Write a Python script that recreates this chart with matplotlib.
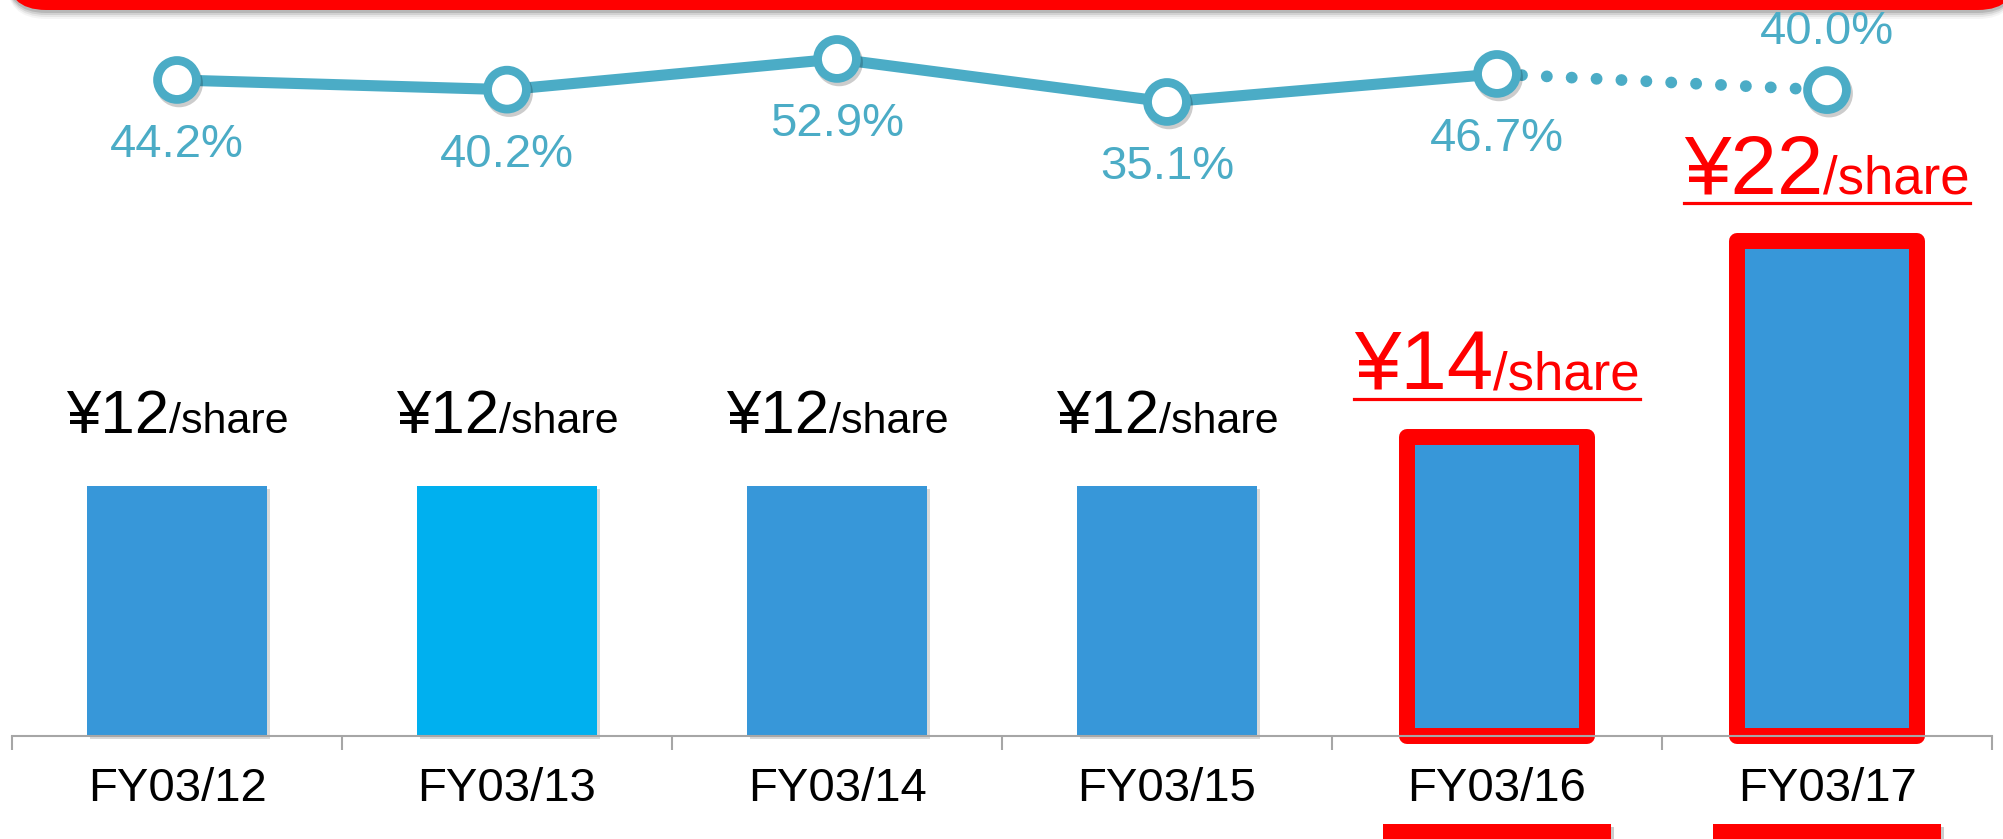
import numpy as np
import matplotlib
matplotlib.use("Agg")
import matplotlib.pyplot as plt
import matplotlib.patheffects as pe
from matplotlib.patches import FancyBboxPatch, Rectangle
from matplotlib.offsetbox import TextArea, HPacker, AnnotationBbox
from matplotlib.lines import Line2D
from matplotlib.transforms import blended_transform_factory, IdentityTransform

# data
years = ["FY03/12", "FY03/13", "FY03/14", "FY03/15", "FY03/16", "FY03/17"]
dividend = [12, 12, 12, 12, 14, 22]            # yen per share
payout = [44.2, 40.2, 52.9, 35.1, 46.7, 40.0]   # payout ratio, %
highlight = ["FY03/16", "FY03/17"]
forecast_from = 4   # segment FY03/16 -> FY03/17 is dotted

# style
W, H, DPI = 2003, 839, 100
BLUE = "#3797d9"
CYAN = "#00b0ef"
TEAL = "#4bacc6"
RED = "#ff0000"
GREY = "#a6a6a6"
plt.rcParams["font.family"] = ["Liberation Sans", "DejaVu Sans"]

fig = plt.figure(figsize=(W / DPI, H / DPI), dpi=DPI, facecolor="white")
fx = lambda p: p / W
fy = lambda p: 1 - p / H   # pixel from top -> figure fraction

ax = fig.add_axes([fx(12), fy(736), fx(1992) - fx(12), fy(0) - fy(736)])
ax.patch.set_visible(False)
x = np.arange(len(years))
base = 1.8
ax.set_xlim(-0.5, len(years) - 0.5)
ax.set_ylim(base, base + 736 / 24.5)

hl = [y in highlight for y in years]
colors = [BLUE, CYAN, BLUE, BLUE, BLUE, BLUE]
bars = ax.bar(x, np.array(dividend) - base, bottom=base, width=0.545, color=colors,
              edgecolor=[RED if h else "none" for h in hl],
              linewidth=[11.5 if h else 0 for h in hl], clip_on=False, zorder=2)
for b in bars:
    b.set_joinstyle("round")
    b.set_path_effects([pe.SimplePatchShadow(offset=(2, -2), shadow_rgbFace="k", alpha=0.15),
                        pe.Normal()])

# dividend labels
red_labels = []
for xi, v, h in zip(x, dividend, hl):
    c = RED if h else "black"
    pack = HPacker(children=[TextArea(f"¥{v}", textprops=dict(size=60 if h else 44.5, color=c)),
                             TextArea("/share", textprops=dict(size=38 if h else 31, color=c))],
                   align="baseline", pad=0, sep=0)
    ab = AnnotationBbox(pack, (xi, v), xybox=(0, 22 if h else 29), xycoords="data",
                        boxcoords="offset points", box_alignment=(0.5, 0),
                        frameon=False, pad=0)
    ax.add_artist(ab)
    if h:
        red_labels.append(pack)

# axis
for s in ["top", "left", "right"]:
    ax.spines[s].set_visible(False)
ax.spines["bottom"].set_color(GREY)
ax.spines["bottom"].set_linewidth(1.5)
ax.set_yticks([])
ax.set_xticks(x, years, fontsize=34)
ax.set_xticks(np.arange(-0.5, len(years)), minor=True)
ax.tick_params(axis="x", which="major", length=0, pad=22)
ax.tick_params(axis="x", which="minor", length=10, width=1.5, color=GREY, direction="out")

# red bars under highlighted years
tr = blended_transform_factory(ax.transData, fig.transFigure)
for xi, h in zip(x, hl):
    if h:
        ax.add_patch(Rectangle((xi - 0.345, -0.02), 0.69, 0.02 + 15 / H, transform=tr,
                               facecolor=RED, edgecolor="none", clip_on=False,
                               path_effects=[pe.SimplePatchShadow(offset=(2, -2), shadow_rgbFace="k", alpha=0.2),
                                             pe.Normal()]))

# payout ratio line
ax2 = ax.twinx()
ax2.set_ylim(77.3 - 304.6, 77.3)
ax2.axis("off")
ax2.plot(x[:forecast_from + 1], payout[:forecast_from + 1], color=TEAL, lw=8,
         solid_capstyle="round", zorder=3)
ax2.plot(x[forecast_from:], payout[forecast_from:], color=TEAL, lw=8.5,
         linestyle=(0, (0.01, 2.1)), dash_capstyle="round", zorder=3)
ax2.plot(x, payout, ls="none", marker="o", ms=28, mfc="white", mec=TEAL, mew=6.3, zorder=4,
         path_effects=[pe.SimpleLineShadow(offset=(1.5, -2.5), shadow_color="k", alpha=0.2),
                       pe.Normal()])
for i, (xi, p) in enumerate(zip(x, payout)):
    above = i == len(x) - 1
    ax2.annotate(f"{p:.1f}%", (xi, p), xytext=(0, 33 if above else -55.4),
                 textcoords="offset points", ha="center", va="baseline",
                 size=34, color=TEAL)

# red banner at the top
inch = fig.dpi_scale_trans
for k, a in [(9, 0.04), (7, 0.06), (5, 0.09), (3, 0.12)]:
    fig.add_artist(FancyBboxPatch((0.06, (H - 10 - k) / DPI), 20.12, 1.0,
                                  boxstyle="round,pad=0,rounding_size=0.4",
                                  transform=inch, facecolor="k", edgecolor="none",
                                  alpha=a, zorder=0))
fig.add_artist(FancyBboxPatch((0.06, (H - 10) / DPI), 20.12, 1.0,
                              boxstyle="round,pad=0,rounding_size=0.4",
                              transform=inch, facecolor=RED, edgecolor="none", zorder=1))

# underline the red labels
fig.canvas.draw()
r = fig.canvas.get_renderer()
for pack in red_labels:
    bb = pack.get_window_extent(r)
    yd = -pack.get_bbox(r).y0
    yline = bb.y0 + yd - 9
    fig.add_artist(Line2D([bb.x0, bb.x1], [yline, yline], transform=IdentityTransform(),
                          color=RED, lw=2.3))

fig.savefig("out.png", dpi=DPI)
